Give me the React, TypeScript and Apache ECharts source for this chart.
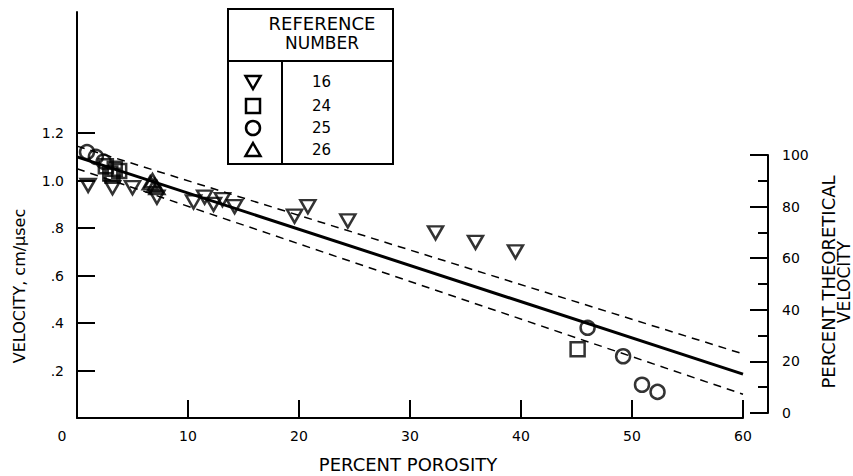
import React, { useEffect, useRef } from 'react';
import * as echarts from 'echarts';

// ---- data ----
const porosityTicks = [0, 10, 20, 30, 40, 50, 60];
const velocityTickValues = [0.2, 0.4, 0.6, 0.8, 1.0, 1.2];
const velocityTickLabels = ['.2', '.4', '.6', '.8', '1.0', '1.2'];
const percentTickValues = [0, 20, 40, 60, 80, 100];

// Reference 16 (inverted triangles)
const ref16 = [
  [1.0, 0.98], [3.2, 0.97], [5.0, 0.97], [7.2, 0.93], [10.5, 0.91], [11.5, 0.93],
  [12.3, 0.9], [13.1, 0.92], [14.2, 0.89], [19.6, 0.85], [20.8, 0.89], [24.4, 0.83],
  [32.3, 0.78], [35.9, 0.74], [39.5, 0.7],
];
// Reference 24 (squares)
const ref24 = [[2.6, 1.06], [3.0, 1.03], [3.4, 1.05], [3.8, 1.04], [3.2, 1.02], [45.1, 0.29]];
// Reference 25 (circles)
const ref25 = [[0.9, 1.12], [1.7, 1.1], [2.4, 1.08], [46.0, 0.38], [49.2, 0.26], [50.9, 0.14], [52.3, 0.11]];
// Reference 26 (triangles)
const ref26 = [[6.6, 0.99], [7.0, 0.98], [6.8, 1.0], [7.2, 0.97]];

const fitLine = [[0, 1.1], [60, 0.185]];
const upperBand = [[0, 1.145], [60, 0.27]];
const lowerBand = [[0, 1.05], [60, 0.1]];

const legendRefs = ['16', '24', '25', '26'];

const FONT = 'DejaVu Sans';

export default function App() {
  const ref = useRef<HTMLDivElement>(null);

  useEffect(() => {
    if (!ref.current) return;
    const chart = echarts.init(ref.current, null, { renderer: 'svg' });

    const markerStyle = { color: 'rgba(0,0,0,0)', borderColor: '#000', borderWidth: 2.5 };
    const legendRowsY = [82, 106, 128, 150];

    const option: any = {
      animation: false,
      backgroundColor: '#fff',
      grid: [
        { left: 77, right: 110, top: 12, bottom: 58, outerBoundsMode: 'none' },
        { left: 700, right: 85, top: 155, bottom: 63, outerBoundsMode: 'none' },
      ],
      xAxis: [
        {
          type: 'value', gridIndex: 0, min: 0, max: 60, interval: 10,
          axisLine: { show: true, onZero: false, lineStyle: { color: '#000', width: 2 } },
          axisTick: { show: true, inside: true, length: 18, lineStyle: { color: '#000', width: 2 } },
          splitLine: { show: false },
          axisLabel: {
            color: '#000', fontSize: 14, fontFamily: FONT, margin: 11,
            formatter: (v: number) => {
              const i = porosityTicks.indexOf(v);
              if (i < 0) return '';
              return v === 0 ? '{z|0}' : String(porosityTicks[i]);
            },
            rich: { z: { fontSize: 14, fontFamily: FONT, color: '#000', padding: [0, 30, 0, 0] } },
          },
        },
        { type: 'value', gridIndex: 1, min: 0, max: 1, show: false },
      ],
      yAxis: [
        {
          type: 'value', gridIndex: 0, min: 0, max: 1.71,
          axisLine: { show: true, onZero: false, lineStyle: { color: '#000', width: 2 } },
          axisTick: {
            show: true, inside: true, length: 18, customValues: velocityTickValues,
            lineStyle: { color: '#000', width: 2 },
          },
          splitLine: { show: false },
          axisLabel: {
            color: '#000', fontSize: 14, fontFamily: FONT, margin: 13,
            customValues: velocityTickValues,
            formatter: (v: number) => {
              let best = 0;
              for (let i = 0; i < velocityTickValues.length; i++) {
                if (Math.abs(velocityTickValues[i] - v) < Math.abs(velocityTickValues[best] - v)) best = i;
              }
              return velocityTickLabels[best];
            },
          },
        },
        {
          type: 'value', gridIndex: 1, position: 'right', min: 0, max: 100, interval: 20,
          axisLine: { show: true, onZero: false, lineStyle: { color: '#000', width: 2 } },
          axisTick: { show: true, inside: true, length: 18, lineStyle: { color: '#000', width: 2 } },
          minorTick: { show: true, splitNumber: 2, length: 10, lineStyle: { color: '#000', width: 2 } },
          splitLine: { show: false },
          minorSplitLine: { show: false },
          axisLabel: {
            color: '#000', fontSize: 14, fontFamily: FONT, margin: 14,
            formatter: (v: number) => (percentTickValues.indexOf(v) >= 0 ? String(v) : ''),
          },
        },
      ],
      series: [
        {
          type: 'line', data: upperBand, xAxisIndex: 0, yAxisIndex: 0, symbol: 'none', silent: true,
          lineStyle: { color: '#000', width: 1.5, type: [8, 6] },
        },
        {
          type: 'line', data: lowerBand, xAxisIndex: 0, yAxisIndex: 0, symbol: 'none', silent: true,
          lineStyle: { color: '#000', width: 1.5, type: [8, 6] },
        },
        {
          type: 'line', data: fitLine, xAxisIndex: 0, yAxisIndex: 0, symbol: 'none', silent: true,
          lineStyle: { color: '#000', width: 3 },
        },
        {
          name: '16', type: 'scatter', data: ref16, symbol: 'triangle', symbolRotate: 180,
          symbolSize: [15, 13], itemStyle: markerStyle, silent: true,
        },
        {
          name: '24', type: 'scatter', data: ref24, symbol: 'rect',
          symbolSize: [14, 14], itemStyle: markerStyle, silent: true,
        },
        {
          name: '25', type: 'scatter', data: ref25, symbol: 'circle',
          symbolSize: 14, itemStyle: markerStyle, silent: true,
        },
        {
          name: '26', type: 'scatter', data: ref26, symbol: 'triangle',
          symbolSize: [15, 13], itemStyle: markerStyle, silent: true,
        },
      ],
      graphic: [
        // axis titles
        {
          type: 'text', x: 408, y: 464,
          style: { text: 'PERCENT POROSITY', fontSize: 18, fontFamily: FONT, fill: '#000', align: 'center', verticalAlign: 'middle' },
        },
        {
          type: 'text', x: 19, y: 286, rotation: Math.PI / 2,
          style: { text: 'VELOCITY, cm/\u00b5sec', fontSize: 16, fontFamily: FONT, fill: '#000', align: 'center', verticalAlign: 'middle' },
        },
        {
          type: 'text', x: 828, y: 282, rotation: Math.PI / 2,
          style: { text: 'PERCENT THEORETICAL', fontSize: 18, fontFamily: FONT, fill: '#000', align: 'center', verticalAlign: 'middle' },
        },
        {
          type: 'text', x: 844, y: 282, rotation: Math.PI / 2,
          style: { text: 'VELOCITY', fontSize: 17, fontFamily: FONT, fill: '#000', align: 'center', verticalAlign: 'middle' },
        },
        // legend table
        {
          type: 'rect', shape: { x: 228, y: 9, width: 165, height: 155 },
          style: { fill: 'none', stroke: '#000', lineWidth: 2 },
        },
        { type: 'line', shape: { x1: 228, y1: 61, x2: 393, y2: 61 }, style: { stroke: '#000', lineWidth: 2 } },
        { type: 'line', shape: { x1: 282, y1: 61, x2: 282, y2: 164 }, style: { stroke: '#000', lineWidth: 2 } },
        {
          type: 'text', x: 322, y: 23,
          style: { text: 'REFERENCE', fontSize: 18, fontFamily: FONT, fill: '#000', align: 'center', verticalAlign: 'middle' },
        },
        {
          type: 'text', x: 322, y: 43,
          style: { text: 'NUMBER', fontSize: 17, fontFamily: FONT, fill: '#000', align: 'center', verticalAlign: 'middle' },
        },
        ...legendRefs.map((r, i) => ({
          type: 'text', x: 312, y: legendRowsY[i],
          style: { text: r, fontSize: 15, fontFamily: FONT, fill: '#000', align: 'left', verticalAlign: 'middle' },
        })),
        {
          type: 'polygon', shape: { points: [[245.5, 76], [260.5, 76], [253, 89]] },
          style: { fill: 'none', stroke: '#000', lineWidth: 2.5 },
        },
        {
          type: 'rect', shape: { x: 246, y: 99, width: 14, height: 14 },
          style: { fill: 'none', stroke: '#000', lineWidth: 2.5 },
        },
        {
          type: 'circle', shape: { cx: 253, cy: 128, r: 7 },
          style: { fill: 'none', stroke: '#000', lineWidth: 2.5 },
        },
        {
          type: 'polygon', shape: { points: [[253, 143], [260.5, 156], [245.5, 156]] },
          style: { fill: 'none', stroke: '#000', lineWidth: 2.5 },
        },
      ],
    };

    chart.setOption(option);
    return () => chart.dispose();
  }, []);

  return <div ref={ref} style={{ width: 853, height: 476, position: 'absolute', left: 0, top: 0 }} />;
}
